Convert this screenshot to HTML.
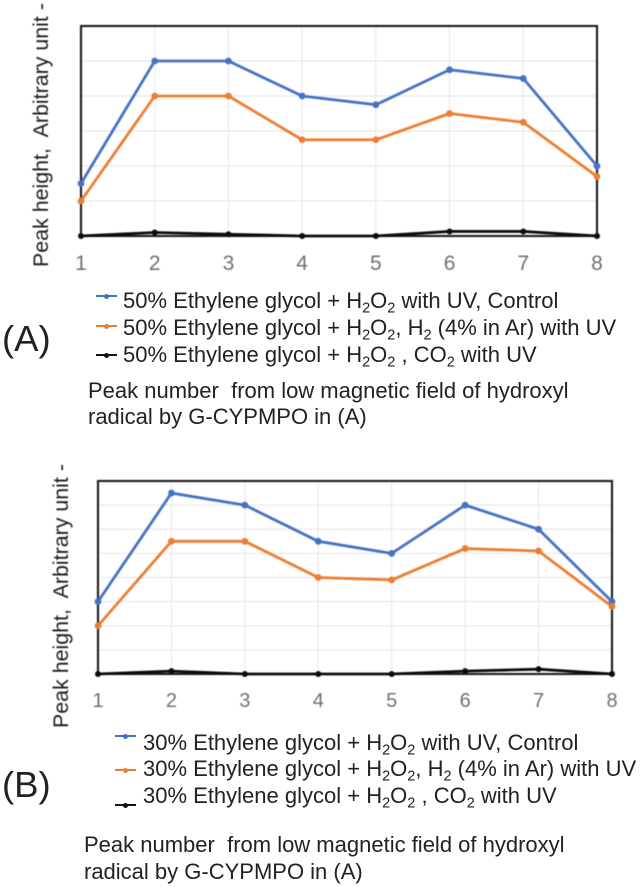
<!DOCTYPE html>
<html lang="en">
<head>
<meta charset="utf-8">
<title>Peak height charts</title>
<style>
html,body{margin:0;padding:0;background:#fff;}
#page{position:relative;width:644px;height:887px;overflow:hidden;background:#fff;font-family:"Liberation Sans",sans-serif;color:#222;}
#page svg{position:absolute;left:0;top:0;filter:blur(.4px);}
.t{position:absolute;white-space:pre;line-height:1;filter:blur(.35px);}
.leg{font-size:22px;}
.cap{font-size:22px;}
.panel{font-size:36.5px;color:#222;}
sub{font-size:.66em;line-height:0;vertical-align:-.3em;}
.key{position:absolute;height:2.2px;width:21px;filter:blur(.3px);}
.key i{position:absolute;left:7.5px;top:-1.4px;width:5px;height:5px;border-radius:50%;background:inherit;display:block;}
</style>
</head>
<body>
<div id="page">
<svg id="chart" width="644" height="887" viewBox="0 0 644 887"></svg>

<div class="key" style="left:96px;top:295px;background:#4472c4"><i></i></div>
<div class="t leg" style="left:123px;top:290px">50% Ethylene glycol + H<sub>2</sub>O<sub>2</sub> with UV, Control</div>
<div class="key" style="left:96px;top:325px;background:#ed7d31"><i></i></div>
<div class="t leg" style="left:123px;top:317px">50% Ethylene glycol + H<sub>2</sub>O<sub>2</sub>, H<sub>2</sub> (4% in Ar) with UV</div>
<div class="key" style="left:96px;top:354px;background:#111"><i></i></div>
<div class="t leg" style="left:123px;top:344px">50% Ethylene glycol + H<sub>2</sub>O<sub>2</sub> , CO<sub>2</sub> with UV</div>
<div class="t panel" style="left:2px;top:321px">(A)</div>
<div class="t cap" style="left:88px;top:380px">Peak number  from low magnetic field of hydroxyl</div>
<div class="t cap" style="left:88px;top:406px">radical by G-CYPMPO in (A)</div>

<div class="key" style="left:115px;top:735px;background:#4472c4"><i></i></div>
<div class="t leg" style="left:143px;top:732px">30% Ethylene glycol + H<sub>2</sub>O<sub>2</sub> with UV, Control</div>
<div class="key" style="left:115px;top:769px;background:#ed7d31"><i></i></div>
<div class="t leg" style="left:143px;top:758px">30% Ethylene glycol + H<sub>2</sub>O<sub>2</sub>, H<sub>2</sub> (4% in Ar) with UV</div>
<div class="key" style="left:115px;top:804px;background:#111"><i></i></div>
<div class="t leg" style="left:143px;top:785px">30% Ethylene glycol + H<sub>2</sub>O<sub>2</sub> , CO<sub>2</sub> with UV</div>
<div class="t panel" style="left:2px;top:767px">(B)</div>
<div class="t cap" style="left:84px;top:834px">Peak number  from low magnetic field of hydroxyl</div>
<div class="t cap" style="left:84px;top:861px">radical by G-CYPMPO in (A)</div>
</div>

<script>
var categories = ["1", "2", "3", "4", "5", "6", "7", "8"];
var yAxisTitle = "Peak height,  Arbitrary unit -";
var controlA = [1.5, 5, 5, 4, 3.75, 4.75, 4.5, 2];
var hydrogenA = [1, 4, 4, 2.75, 2.75, 3.5, 3.25, 1.7];
var co2A = [0, 0.1, 0.05, 0, 0, 0.13, 0.13, 0];
var controlB = [3, 7.5, 7, 5.5, 5, 7, 6, 3];
var hydrogenB = [2, 5.5, 5.5, 4, 3.9, 5.2, 5.1, 2.8];
var co2B = [0, 0.12, 0, 0, 0, 0.12, 0.2, 0];
var yMaxA = 6;
var yMaxB = 8;

var svgNS = "http://www.w3.org/2000/svg";
var root = document.getElementById("chart");

function make(tag, attrs, parent) {
  var el = document.createElementNS(svgNS, tag);
  for (var k in attrs) { el.setAttribute(k, attrs[k]); }
  parent.appendChild(el);
  return el;
}

function drawPanel(id, box, yMax, series, tickSize, tickY, titleX, titleY) {
  var g = make("g", {}, root);
  
  
  function sx(i) { return box.left + (box.right - box.left) * i / (categories.length - 1); }
  function sy(v) { return box.bottom - (box.bottom - box.top) * v / yMax; }

  for (var v = 1; v < yMax; v++) {
    var gl = make("line", {x1: box.left, x2: box.right, y1: sy(v), y2: sy(v), stroke: "#e4e4e4", "stroke-width": 1.1}, g);
    
    
  }
  categories.forEach(function (c, i) {
    var vl = make("line", {x1: sx(i), x2: sx(i), y1: box.top, y2: box.bottom, stroke: "#e6e6e6", "stroke-width": 1}, g);
    
    
    var t = make("text", {x: sx(i), y: tickY, "text-anchor": "middle", "font-family": "Liberation Sans, sans-serif", "font-size": tickSize, fill: "#707070"}, g);
    t.textContent = c;
    
    
  });

  var frame = make("rect", {x: box.left, y: box.top, width: box.right - box.left, height: box.bottom - box.top, fill: "none", stroke: "#1a1a1a", "stroke-width": 2.1}, g);
  
  

  var title = make("text", {x: titleX, y: titleY, "font-family": "Liberation Sans, sans-serif", "font-size": 21.4, fill: "#1c1c1c", transform: "rotate(-90 " + titleX + " " + titleY + ")"}, g);
  title.textContent = yAxisTitle;
  title.style.whiteSpace = "pre";
  
  

  series.forEach(function (s) {
    var pts = s.values.map(function (v, i) { return sx(i) + "," + sy(v); }).join(" ");
    var line = make("polyline", {points: pts, fill: "none", stroke: s.color, "stroke-width": 2.8, "stroke-linejoin": "round"}, g);
    
    
    s.values.forEach(function (v, i) {
      var dot = make("circle", {cx: sx(i), cy: sy(v), r: s.r, fill: s.color}, g);
      
      
    });
  });
}

drawPanel("a", {left: 81, right: 597, top: 26, bottom: 236}, yMaxA, [
  {name: "control", color: "#4472c4", r: 3.4, values: controlA},
  {name: "hydrogen", color: "#ed7d31", r: 3.4, values: hydrogenA},
  {name: "co2", color: "#0c0c0c", r: 3, values: co2A}
], 21, 270, 48, 267);

drawPanel("b", {left: 98, right: 612, top: 481, bottom: 674}, yMaxB, [
  {name: "control", color: "#4472c4", r: 3.4, values: controlB},
  {name: "hydrogen", color: "#ed7d31", r: 3.4, values: hydrogenB},
  {name: "co2", color: "#0c0c0c", r: 3, values: co2B}
], 20, 707, 68, 728);
</script>
</body>
</html>
